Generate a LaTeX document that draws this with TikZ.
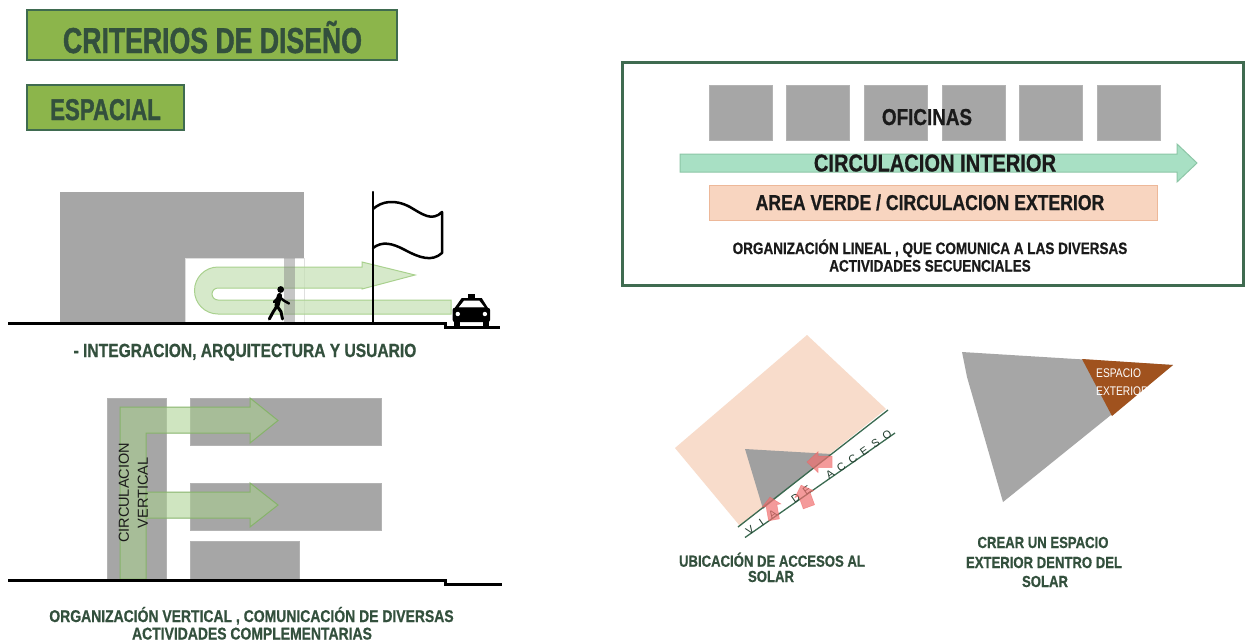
\documentclass[tikz,border=0pt]{standalone}
\usepackage{fontspec}
\setmainfont{Liberation Sans}
\newfontfamily\fnarrow{Liberation Sans}[FakeStretch=0.82, BoldFeatures={FakeBold=0.7}]
\newfontfamily\ftitle{Liberation Sans}[FakeStretch=0.74, BoldFeatures={FakeBold=1.2}]
\usetikzlibrary{calc}
\definecolor{titlefill}{HTML}{8CB54B}
\definecolor{titleborder}{HTML}{3F6B50}
\definecolor{txtgreen}{HTML}{33503D}
\definecolor{bldgray}{HTML}{A6A6A6}
\definecolor{pale}{HTML}{C5E0B4}
\definecolor{paleborder}{HTML}{A9D18E}
\definecolor{vgreen}{HTML}{A9D18E}
\definecolor{vgreenb}{HTML}{86B36A}
\definecolor{mint}{HTML}{A8E0C4}
\definecolor{mintb}{HTML}{8CC6A6}
\definecolor{peach}{HTML}{F8D5C0}
\definecolor{peachb}{HTML}{EDB899}
\definecolor{sitepeach}{HTML}{F8DCCB}
\definecolor{road}{HTML}{3A6A50}
\definecolor{pinkarrow}{HTML}{F07070}
\definecolor{brownext}{HTML}{A0521E}
\definecolor{darktxt}{HTML}{1A1A1A}
\definecolor{trigray}{HTML}{A0A0A0}
\begin{document}
\begin{tikzpicture}[x=1pt,y=-1pt,
  titlebox/.style={draw=titleborder, line width=2.5pt, fill=titlefill},
  titletxt/.style={font=\ftitle\bfseries\fontsize{#1}{#1}\selectfont, text=txtgreen, inner sep=0pt, anchor=base},
  captxt/.style={font=\fnarrow\bfseries\fontsize{#1}{#1}\selectfont, text=txtgreen, inner sep=0pt, anchor=base},
  boxtxt/.style={font=\fnarrow\bfseries\fontsize{#1}{#1}\selectfont, text=darktxt, inner sep=0pt, anchor=base},
  grayblock/.style={fill=bldgray, draw=bldgray!85!white, line width=0.6pt},
  groundline/.style={line width=3pt, line join=miter},
  flagline/.style={line width=2.5pt, line join=round, line cap=round},
  roadline/.style={draw=road, line width=1.3pt},
  roadtxt/.style={font=\fontsize{11}{11}\selectfont, text=road!60!black, inner sep=0pt, rotate=34.7},
  pinkarr/.style={fill=pinkarrow, fill opacity=0.7, draw=pinkarrow!80!red, draw opacity=0.5, line width=0.5pt},
  limb/.style={line width=3pt, line cap=round, line join=round}
]
\useasboundingbox (0,0) rectangle (1248,641);
\fill[white] (0,0) rectangle (1248,641);

% ---------- titles ----------
\draw[titlebox] (27,10) rectangle (397,60);
\node[titletxt=36] (title) at (212.5,53) {CRITERIOS DE DISEÑO};
\draw[titlebox] (27,85) rectangle (184,130);
\node[titletxt=30] (espacial) at (105.5,120) {ESPACIAL};

% ---------- building / integration ----------
\fill[bldgray] (60,192) rectangle (304,323);
\fill[white] (185,258) rectangle (304,323);
\draw[gray!25, line width=0.8pt] (185,323) -- (185,258) -- (304,258) -- (304,323);
\draw[fill=pale, fill opacity=0.7, draw=paleborder, line width=1pt]
  (451,300) -- (451,314) -- (218,314) arc[start angle=90, end angle=270, radius=23.5]
  -- (362,267) -- (362,262) -- (415,275) -- (362,289) -- (362,288) -- (218,288)
  arc[start angle=270, end angle=90, radius=6] -- cycle;
\fill[gray, opacity=0.45] (284,258) rectangle (295,323);
% pedestrian
\fill (280.7,289.5) circle[radius=3.4];
\draw[limb, line width=5pt] (279.5,295.5) -- (277,305.5);
\draw[limb] (277,306) -- (273.3,311.7) -- (269.3,319);
\draw[limb] (277,306) -- (281,311.7) -- (282.5,319);
\draw[limb, line width=2.5pt] (279,297) -- (274,302);
\draw[limb, line width=2.5pt] (279.5,297) -- (284,300.7) -- (289,303.5);
% flag
\draw[flagline] (373,192) -- (373,323);
\draw[flagline] (373,209) .. controls (382,201) and (395,199) .. (410,207)
  .. controls (422,214) and (432,222) .. (442,212) -- (442,253)
  .. controls (432,262) and (420,258) .. (405,250)
  .. controls (392,243) and (382,241) .. (373,248);
% taxi
\fill (468.3,293.5) rectangle (475,298.5);
\fill (461.7,298) -- (481.7,298) -- (488.3,308.5) -- (454.3,308.5) -- cycle;
\fill[white] (464,300.7) -- (479.3,300.7) -- (484.5,307.3) -- (458.8,307.3) -- cycle;
\fill[rounded corners=2pt] (452.7,307.8) rectangle (490,322);
\fill (454.3,320) rectangle (460.3,327);
\fill (483.3,320) rectangle (489.3,327);
\fill[white] (457.8,314) circle[radius=2.2];
\fill[white] (484.9,314) circle[radius=2.2];
% ground
\draw[groundline] (8,323) -- (445,323) -- (445,327.5) -- (500,327.5);
\node[captxt=19] (cap1) at (245,357) {- INTEGRACION, ARQUITECTURA Y USUARIO};

% ---------- vertical organisation ----------
\fill[grayblock] (107,398) rectangle (166,579);
\fill[grayblock] (190,398) rectangle (381,445);
\fill[grayblock] (190,483) rectangle (381,530);
\fill[grayblock] (190,541) rectangle (299,579);
\draw[fill=vgreen, fill opacity=0.55, draw=vgreenb, line width=1pt]
  (120,579) -- (120,407) -- (250,407) -- (250,398) -- (278,420.5) -- (250,443)
  -- (250,433) -- (146,433) -- (146,579) -- cycle;
\draw[fill=vgreen, fill opacity=0.55, draw=vgreenb, line width=1pt]
  (146,492) -- (250,492) -- (250,483) -- (278,505) -- (250,527) -- (250,518) -- (146,518) -- cycle;
\node[font=\fontsize{14.5}{19}\selectfont, text=darktxt, align=center, rotate=90, inner sep=0pt] (circv) at (133.5,493) {CIRCULACION\\VERTICAL};
\draw[groundline] (8,580) -- (445,580) -- (445,584) -- (502,584);
\node[captxt=17] (cap2a) at (251.5,622) {ORGANIZACIÓN VERTICAL , COMUNICACIÓN DE DIVERSAS};
\node[captxt=17] (cap2b) at (252,639.5) {ACTIVIDADES COMPLEMENTARIAS};

% ---------- linear organisation box ----------
\draw[draw=titleborder, line width=3pt] (622,62) rectangle (1243,285);
\foreach \i in {0,...,5}
  \fill[grayblock] ({709+\i*77.6},85) rectangle ({772+\i*77.6},140);
\node[boxtxt=23] (oficinas) at (927,125) {OFICINAS};
\draw[fill=mint, draw=mintb, line width=1pt]
  (680,154) -- (1177,154) -- (1177,144) -- (1197,163) -- (1177,182) -- (1177,172) -- (680,172) -- cycle;
\node[boxtxt=24.5] (circint) at (935,171.5) {CIRCULACION INTERIOR};
\draw[fill=peach, draw=peachb, line width=1pt] (709,185) rectangle (1157,220);
\node[boxtxt=21.5] (areaverde) at (930,210) {AREA VERDE / CIRCULACION EXTERIOR};
\node[boxtxt=16.5] (lin1) at (930,254) {ORGANIZACIÓN LINEAL , QUE COMUNICA A LAS DIVERSAS};
\node[boxtxt=16.5] (lin2) at (930,271.5) {ACTIVIDADES SECUENCIALES};

% ---------- access to site ----------
\fill[sitepeach] (675,448) -- (807,335) -- (886,409) -- (740,526) -- cycle;
\fill[trigray] (745,449) -- (831,454) -- (763,509) -- cycle;
\draw[roadline] (738,527) -- (888,410);
\draw[roadline] (745,537.5) -- (895,433);
\foreach \ch/\k in {V/0,I/1,A/2,D/4,E/5,A/7,C/8,C/9,E/10,S/11,O/12}
  \node[roadtxt] (road\k) at ($(750,530)!\k/12!(887,435)$) {\ch};
\path[pinkarr] (807,462) -- (818,451.7) -- (818,456) -- (832,456) -- (832,467.5) -- (818,467.5) -- (818,472.5) -- cycle;
\begin{scope}[shift={(805,496)}, rotate=20]
  \path[pinkarr] (0,-11.5) -- (10,-2) -- (6,-2) -- (6,11.5) -- (-6,11.5) -- (-6,-2) -- (-10,-2) -- cycle;
\end{scope}
\begin{scope}[shift={(772,508.5)}, rotate=10]
  \path[pinkarr] (0,-11.5) -- (9.5,-3) -- (5.5,-3) -- (5.5,11.5) -- (-5.5,11.5) -- (-5.5,-3) -- (-9.5,-3) -- cycle;
\end{scope}
\node[captxt=16] (ubic1) at (772,566.7) {UBICACIÓN DE ACCESOS AL};
\node[captxt=16] (ubic2) at (771,582) {SOLAR};

% ---------- exterior space ----------
\fill[bldgray] (962,352) -- (1173,365) -- (1003,502) -- (967,377) -- cycle;
\fill[brownext] (1082,359) -- (1173,365) -- (1112,416) -- cycle;
\node[font=\fnarrow\fontsize{12.5}{12.5}\selectfont, text=white, inner sep=0pt, anchor=base west] (esp1) at (1096,377) {ESPACIO};
\node[font=\fnarrow\fontsize{12.5}{12.5}\selectfont, text=white, inner sep=0pt, anchor=base west] (esp2) at (1096,395) {EXTERIOR};
\node[captxt=16] (crear1) at (1043,548) {CREAR UN ESPACIO};
\node[captxt=16] (crear2) at (1044,568) {EXTERIOR DENTRO DEL};
\node[captxt=16] (crear3) at (1045,587) {SOLAR};
\end{tikzpicture}
\end{document}
